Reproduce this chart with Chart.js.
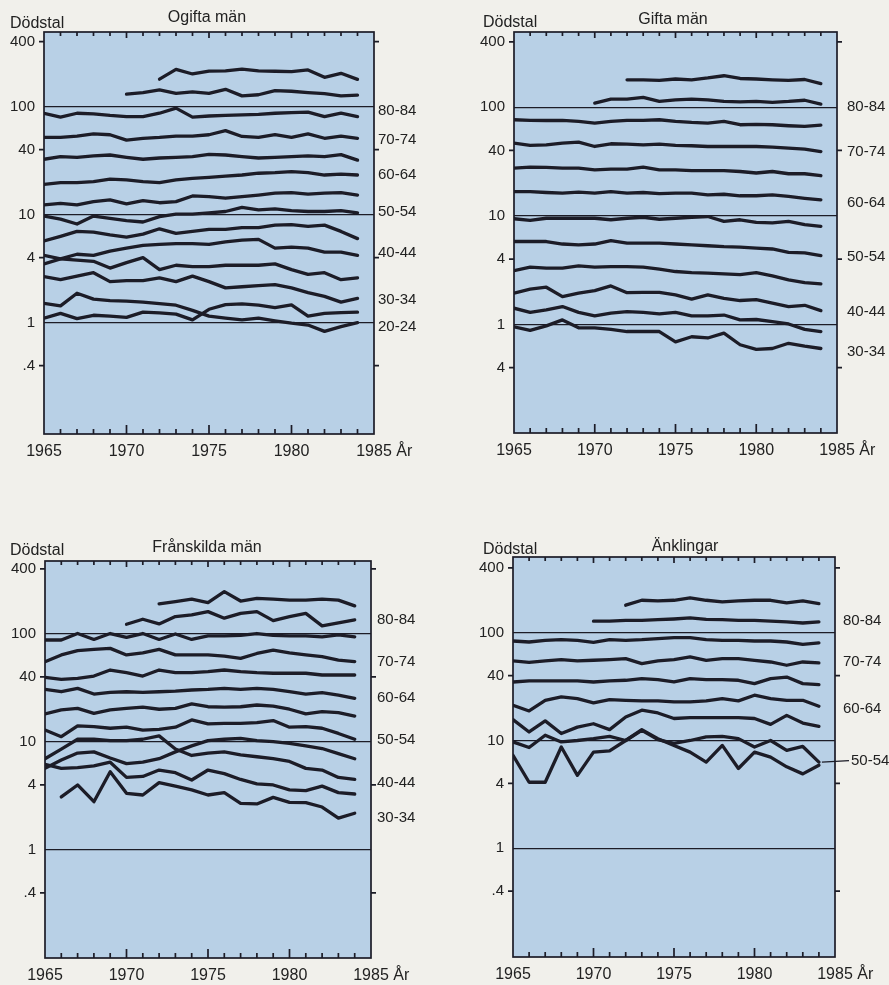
<!DOCTYPE html>
<html lang="sv">
<head>
<meta charset="utf-8">
<title>Dödstal</title>
<script src="https://cdn.jsdelivr.net/npm/chart.js@4.4.1/dist/chart.umd.min.js"></script>
<style>
  html, body { margin: 0; padding: 0; background: #f1f0eb; }
  #page { position: relative; width: 889px; height: 985px; overflow: hidden; }
  #page canvas { position: absolute; }
</style>
</head>
<body>
<div id="page">
  <canvas id="ogifta" width="444" height="490" style="left:0;top:0"></canvas>
  <canvas id="gifta" width="445" height="490" style="left:444px;top:0"></canvas>
  <canvas id="franskilda" width="444" height="460" style="left:0;top:525px"></canvas>
  <canvas id="anklingar" width="445" height="460" style="left:444px;top:525px"></canvas>
</div>
<script>
/* ---- data: deaths per 1000 ---- */
const years = [1965, 1966, 1967, 1968, 1969, 1970, 1971, 1972, 1973, 1974,
               1975, 1976, 1977, 1978, 1979, 1980, 1981, 1982, 1983, 1984];
const xTicks = [1965, 1970, 1975, 1980, 1985];
const yTicks = [0.4, 1, 4, 10, 40, 100, 400];
const gridValues = [1, 10, 100];
const sideTicks = [0.4, 4, 40, 400];

// Ogifta män
const ogifta85 = [null, null, null, null, null, null, null, 180, 222, 201, 214, 215, 223, 215, 213, 211, 219, 187, 204, 179];
const ogifta80 = [null, null, null, null, null, 131, 135, 143, 133, 137, 133, 145, 126, 129, 141, 139, 135, 132, 126, 128];
const ogifta75 = [87, 80, 87, 86, 83, 81, 81, 87, 97, 80, 82, 83, 84, 85, 87, 88, 89, 81, 87, 81];
const ogifta70 = [52, 52, 53.5, 56, 55, 49, 51, 52, 53.5, 53.5, 55, 60, 53, 52, 55, 52, 56, 51, 53.5, 51];
const ogifta65 = [32.6, 34.5, 34, 35, 35.7, 34, 32.6, 33.5, 34, 34.5, 36.2, 35.7, 34.5, 33.5, 34, 34.5, 35, 34.5, 36, 32];
const ogifta60 = [19.1, 19.8, 19.8, 20.2, 21.3, 21, 20.2, 19.8, 21, 21.7, 22.2, 22.8, 23.3, 24.2, 24.5, 25, 24.5, 23.3, 23.7, 23.3];
const ogifta55 = [12.3, 12.7, 12.3, 13.2, 13.7, 12.6, 13.5, 12.9, 13.2, 14.9, 14.7, 14.2, 14.7, 15.2, 15.8, 16, 15.5, 15.8, 16, 15.2];
const ogifta50 = [9.7, 9.1, 8.2, 9.7, 9.25, 8.8, 8.55, 9.6, 10.1, 10.1, 10.4, 10.7, 11.7, 11.1, 11.3, 10.9, 10.7, 10.7, 10.9, 10.4];
const ogifta45 = [5.7, 6.3, 7.0, 6.9, 6.5, 6.2, 6.6, 7.4, 6.7, 7.0, 7.3, 7.3, 7.6, 7.6, 8.0, 8.1, 7.8, 8.0, 7.0, 6.0];
const ogifta40 = [3.5, 3.9, 4.3, 4.2, 4.6, 4.9, 5.2, 5.3, 5.4, 5.4, 5.3, 5.6, 5.8, 5.9, 4.9, 5.0, 4.9, 4.5, 4.5, 4.2];
const ogifta35 = [4.2, 3.9, 3.8, 3.7, 3.2, 3.6, 4.0, 3.1, 3.4, 3.3, 3.3, 3.4, 3.4, 3.4, 3.5, 3.1, 2.8, 2.9, 2.5, 2.6];
const ogifta30 = [2.67, 2.5, 2.7, 2.9, 2.4, 2.45, 2.45, 2.6, 2.4, 2.7, 2.4, 2.1, 2.15, 2.2, 2.25, 2.1, 1.9, 1.75, 1.55, 1.68];
const ogifta25 = [1.51, 1.43, 1.87, 1.65, 1.6, 1.58, 1.55, 1.5, 1.45, 1.3, 1.15, 1.1, 1.06, 1.1, 1.04, 0.99, 0.95, 0.83, 0.92, 1.0];
const ogifta20 = [1.1, 1.22, 1.09, 1.17, 1.15, 1.12, 1.25, 1.23, 1.2, 1.06, 1.33, 1.47, 1.49, 1.45, 1.38, 1.46, 1.15, 1.22, 1.24, 1.25];

// Gifta män
const gifta85 = [null, null, null, null, null, null, null, 179, 179, 177, 182, 179, 186, 195, 184, 182, 179, 177, 180, 165];
const gifta80 = [null, null, null, null, null, 109, 119, 119, 123, 113, 117, 119, 117, 113, 112, 113, 111, 113, 116, 107];
const gifta75 = [76.7, 75.7, 75.5, 75.7, 74, 71.4, 74, 75.7, 75.7, 76.7, 74, 72.4, 71.4, 74, 69, 69.5, 69, 67.5, 66.5, 68.5];
const gifta70 = [46.8, 44.5, 45.1, 46.8, 47.7, 43.5, 46.1, 45.8, 45.1, 45.8, 44.5, 44.2, 43.5, 43.5, 43.5, 43.5, 43, 42, 41.1, 39.1];
const gifta65 = [27.5, 28.1, 27.9, 27.5, 27.5, 26.5, 26.9, 26.9, 28.1, 26.5, 26.5, 26.1, 26.1, 26.1, 25.6, 24.8, 25.6, 24.4, 24.4, 23.4];
const gifta60 = [16.7, 16.7, 16.4, 16.2, 16.5, 16.2, 16.7, 16.2, 16.4, 16, 16.2, 16.2, 15.6, 15.8, 15.3, 15.3, 15.6, 15.1, 14.5, 14];
const gifta55 = [9.4, 9.1, 9.5, 9.5, 9.5, 9.5, 9.2, 9.5, 9.7, 9.3, 9.5, 9.7, 9.85, 8.9, 9.2, 8.7, 8.6, 8.9, 8.3, 8.0];
const gifta50 = [5.8, 5.8, 5.8, 5.5, 5.4, 5.5, 5.9, 5.6, 5.6, 5.6, 5.5, 5.4, 5.3, 5.2, 5.15, 5.04, 4.95, 4.6, 4.55, 4.3];
const gifta45 = [3.13, 3.37, 3.3, 3.3, 3.46, 3.37, 3.41, 3.41, 3.37, 3.23, 3.07, 3.0, 2.97, 2.92, 2.88, 3.0, 2.8, 2.57, 2.43, 2.36];
const gifta40 = [1.94, 2.11, 2.2, 1.8, 1.94, 2.05, 2.26, 1.96, 1.97, 1.97, 1.87, 1.71, 1.87, 1.74, 1.66, 1.69, 1.57, 1.46, 1.5, 1.34];
const gifta35 = [1.41, 1.29, 1.36, 1.46, 1.29, 1.2, 1.27, 1.31, 1.29, 1.25, 1.29, 1.2, 1.2, 1.22, 1.1, 1.11, 1.06, 1.01, 0.9, 0.86];
const gifta30 = [0.95, 0.88, 0.97, 1.1, 0.93, 0.93, 0.9, 0.86, 0.86, 0.86, 0.69, 0.77, 0.75, 0.83, 0.65, 0.59, 0.6, 0.67, 0.63, 0.6];

// Frånskilda män
const fransk85 = [null, null, null, null, null, null, null, 190, 199, 210, 195, 247, 202, 214, 210, 206, 206, 210, 206, 182];
const fransk80 = [null, null, null, null, null, 123, 137, 124, 145, 150, 161, 140, 155, 161, 133, 145, 155, 119, 127, 135];
const fransk75 = [88, 88, 101, 89, 101, 93, 101, 89, 100, 89, 96, 96, 97, 101, 97, 96, 96, 94, 98, 94];
const fransk70 = [55.4, 64, 70, 72, 73.6, 64, 67, 72, 64, 64, 64, 62.5, 59.5, 66, 71, 67, 64, 61.6, 57.4, 55.4];
const fransk65 = [39.7, 38, 38.9, 40.8, 46.4, 43.8, 40.8, 46.4, 43.8, 43.8, 44.8, 46.4, 44.8, 43.8, 43.3, 43.3, 43.3, 41.7, 41.7, 41.7];
const fransk60 = [30.7, 29.2, 31.4, 27.8, 28.8, 29.2, 28.8, 29.2, 29.6, 30.3, 30.7, 31.4, 30.7, 31.4, 30.7, 29.2, 27.8, 28.6, 27.2, 25.4];
const fransk55 = [18.2, 19.8, 20.5, 18.4, 19.8, 20.5, 21, 20.1, 20.5, 22.5, 21.2, 21, 21.2, 22, 21.5, 20.1, 18.2, 19.1, 18.7, 17.4];
const fransk50 = [12.9, 11.2, 14.1, 13.9, 13.4, 13.7, 12.9, 13.1, 13.7, 16, 14.7, 14.9, 14.9, 15.1, 15.8, 13.7, 13.9, 13.4, 12, 10.6];
const fransk45 = [5.7, 6.8, 7.9, 8.1, 7.1, 6.3, 6.5, 7.0, 8.1, 9.2, 10.3, 10.6, 10.8, 10.3, 10.1, 9.7, 9.2, 8.7, 7.8, 7.0];
const fransk40 = [7.0, 8.6, 10.6, 10.6, 10.3, 10.3, 10.6, 11.4, 8.6, 7.5, 7.9, 8.1, 7.6, 7.3, 7.0, 6.6, 5.7, 5.5, 4.7, 4.5];
const fransk35 = [6.2, 5.7, 5.8, 6.0, 6.5, 4.7, 4.8, 5.5, 5.2, 4.45, 5.5, 5.1, 4.5, 4.1, 4.0, 3.6, 3.55, 3.9, 3.4, 3.3];
const fransk30 = [null, 3.1, 4.0, 2.8, 5.3, 3.35, 3.23, 4.2, 3.9, 3.6, 3.23, 3.4, 2.7, 2.67, 3.07, 2.76, 2.74, 2.5, 1.97, 2.19];

// Änklingar
const ankl85 = [null, null, null, null, null, null, null, 180, 200, 197, 200, 210, 200, 193, 197, 200, 200, 189, 197, 186];
const ankl80 = [null, null, null, null, null, 128, 128, 130, 130, 132, 134, 137, 133, 132, 130, 130, 128, 126, 123, 126];
const ankl75 = [83.8, 82, 85, 86.2, 85, 81.5, 86.2, 85, 86.2, 88.2, 90.1, 90.1, 86.2, 85, 85, 83.8, 83.8, 82, 78, 80.5];
const ankl70 = [54.7, 53.1, 54.7, 56.3, 54.7, 55.5, 56.3, 57.5, 51.6, 54.7, 56.3, 59.6, 55.5, 57.5, 57.5, 55.5, 53.5, 49.9, 53.5, 52.4];
const ankl65 = [34.9, 35.7, 35.7, 35.7, 35.7, 34.9, 35.7, 36.2, 37.5, 36.7, 34.9, 37.5, 36.7, 36.7, 36.2, 33.7, 37.5, 38.8, 33.7, 33.0];
const ankl60 = [21.2, 18.8, 23.6, 25.4, 24.5, 22.3, 23.9, 23.6, 23.3, 23.3, 22.8, 22.8, 23.3, 24.5, 23.3, 26.3, 24.5, 23.6, 23.6, 20.8];
const ankl55 = [15.6, 12.0, 15.2, 11.6, 13.3, 14.3, 12.6, 16.5, 19.1, 18, 16, 16.3, 16.3, 16.3, 16.3, 16.0, 14.1, 17.1, 14.5, 13.5];
const ankl50 = [9.7, 8.6, 11.2, 9.7, 10.0, 10.4, 10.9, 10.0, 12.4, 10.2, 9.4, 10.0, 10.8, 10.9, 10.4, 8.7, 10.0, 8.1, 8.8, 6.3];
const ankl45 = [7.3, 4.1, 4.1, 8.7, 4.75, 7.8, 8.0, 10.0, 12.6, 10.4, 9.0, 7.8, 6.3, 9.0, 5.5, 7.8, 7.0, 5.7, 4.9, 5.9];

// age group labels at the right of each panel, and the level they sit at
const ogiftaLabels = ['80-84', '70-74', '60-64', '50-54', '40-44', '30-34', '20-24'];
const ogiftaLabelAt = [92, 49, 23.3, 10.6, 4.4, 1.62, 0.91];
const giftaLabels = ['80-84', '70-74', '60-64', '50-54', '40-44', '30-34'];
const giftaLabelAt = [101, 38.9, 13.2, 4.2, 1.3, 0.56];
const franskLabels = ['80-84', '70-74', '60-64', '50-54', '40-44', '30-34'];
const franskLabelAt = [135, 55, 25.6, 10.4, 4.2, 1.98];
const anklLabels = ['80-84', '70-74', '60-64', '50-54'];
const anklLabelAt = [130, 53.5, 19.8, 6.5];

/* ---- styling ---- */
const INK = '#1c1c27';
const TEXT = '#222222';
const PLOT_BG = '#b8d0e6';
const FONT = '"Liberation Sans", Arial, Helvetica, sans-serif';

Chart.defaults.font.family = FONT;
Chart.defaults.color = TEXT;

const panels = [
  { id: 'ogifta', title: 'Ogifta män', lines: [ogifta85, ogifta80, ogifta75, ogifta70, ogifta65, ogifta60, ogifta55,
      ogifta50, ogifta45, ogifta40, ogifta35, ogifta30, ogifta25, ogifta20],
    labels: ogiftaLabels, labelAt: ogiftaLabelAt, lowTick: '.4',
    yMin: 0.093, yMax: 492, axisW: 44, padTop: 32, padRight: 70, xAxisH: 56,
    titleX: 207, titleBase: 22, dodX: 10, dodBase: 28, labelX: 378 },
  { id: 'gifta', title: 'Gifta män', lines: [gifta85, gifta80, gifta75, gifta70, gifta65, gifta60, gifta55,
      gifta50, gifta45, gifta40, gifta35, gifta30],
    labels: giftaLabels, labelAt: giftaLabelAt, lowTick: '4',
    yMin: 0.1, yMax: 493, axisW: 70, padTop: 32, padRight: 52, xAxisH: 57,
    titleX: 229, titleBase: 24, dodX: 39, dodBase: 27, labelX: 403 },
  { id: 'franskilda', title: 'Frånskilda män', lines: [fransk85, fransk80, fransk75, fransk70, fransk65, fransk60, fransk55,
      fransk50, fransk45, fransk40, fransk35, fransk30],
    labels: franskLabels, labelAt: franskLabelAt, lowTick: '.4',
    yMin: 0.1, yMax: 474, axisW: 45, padTop: 36, padRight: 73, xAxisH: 27,
    titleX: 207, titleBase: 27, dodX: 10, dodBase: 30, labelX: 377 },
  { id: 'anklingar', title: 'Änklingar', lines: [ankl85, ankl80, ankl75, ankl70, ankl65, ankl60, ankl55, ankl50, ankl45],
    labels: anklLabels, labelAt: anklLabelAt, lowTick: '.4',
    yMin: 0.098, yMax: 504, axisW: 69, padTop: 32, padRight: 54, xAxisH: 28,
    titleX: 241, titleBase: 26, dodX: 39, dodBase: 29, labelX: 399,
    pointer: { index: 3, labelX: 407 } }
];

// plot background, frame, tick marks and all the loose texts
function framePlugin(panel) {
  return {
    id: 'frame',
    beforeDraw(chart) {
      const { ctx, chartArea: a } = chart;
      ctx.save();
      ctx.fillStyle = PLOT_BG;
      ctx.fillRect(a.left, a.top, a.right - a.left, a.bottom - a.top);
      ctx.restore();
    },
    afterDraw(chart) {
      const { ctx, chartArea: a, scales: { x, y } } = chart;
      ctx.save();
      ctx.strokeStyle = INK;
      ctx.lineWidth = 1.7;
      ctx.strokeRect(a.left, a.top, a.right - a.left, a.bottom - a.top);

      ctx.beginPath();
      for (let yr = 1966; yr <= 1984; yr++) {
        const px = x.getPixelForValue(yr);
        const major = yr % 5 === 0;
        ctx.moveTo(px, a.top);
        ctx.lineTo(px, a.top + (major ? 6 : 4));
        ctx.moveTo(px, a.bottom);
        ctx.lineTo(px, a.bottom - (major ? 9 : 5));
      }
      // short outward marks on both sides at 400, 40, 4 and .4
      sideTicks.forEach(v => {
        const py = y.getPixelForValue(v);
        ctx.moveTo(a.left - 5, py);
        ctx.lineTo(a.left, py);
        ctx.moveTo(a.right, py);
        ctx.lineTo(a.right + 5, py);
      });
      ctx.stroke();

      // title and axis name
      ctx.fillStyle = TEXT;
      ctx.font = '16px ' + FONT;
      ctx.textBaseline = 'alphabetic';
      ctx.textAlign = 'center';
      ctx.fillText(panel.title, panel.titleX, panel.titleBase);
      ctx.textAlign = 'left';
      ctx.fillText('Dödstal', panel.dodX, panel.dodBase);

      // unit after the last year label
      const x85 = x.getPixelForValue(1985);
      const w85 = ctx.measureText('1985').width;
      ctx.textBaseline = 'middle';
      ctx.fillText(' År', x85 + w85 / 2, a.bottom + 8 + 9.6);

      // age group labels
      ctx.font = '15px ' + FONT;
      panel.labels.forEach((txt, i) => {
        const py = y.getPixelForValue(panel.labelAt[i]);
        const px = panel.pointer && panel.pointer.index === i ? panel.pointer.labelX : panel.labelX;
        ctx.fillText(txt, px, py);
      });

      if (panel.pointer) {
        const i = panel.pointer.index;
        const last = panel.lines[7];
        ctx.lineWidth = 1.2;
        ctx.beginPath();
        ctx.moveTo(x.getPixelForValue(1984) + 3, y.getPixelForValue(last[last.length - 1]));
        ctx.lineTo(panel.pointer.labelX - 2, y.getPixelForValue(panel.labelAt[i]));
        ctx.stroke();
      }
      ctx.restore();
    }
  };
}

function makePanel(panel) {
  return new Chart(document.getElementById(panel.id), {
    type: 'line',
    data: {
      datasets: panel.lines.map(values => ({
        data: years.map((yr, i) => ({ x: yr, y: values[i] })),
        borderColor: INK,
        borderWidth: 3.3,
        borderJoinStyle: 'round',
        borderCapStyle: 'round',
        pointRadius: 0,
        tension: 0,
        fill: false,
        spanGaps: false
      }))
    },
    options: {
      responsive: false,
      animation: false,
      devicePixelRatio: 1,
      layout: { padding: { top: panel.padTop, right: panel.padRight, left: 0, bottom: 0 } },
      plugins: { legend: { display: false }, tooltip: { enabled: false } },
      scales: {
        x: {
          type: 'linear',
          bounds: 'data',
          min: 1965,
          max: 1985,
          afterBuildTicks: s => { s.ticks = xTicks.map(v => ({ value: v })); },
          afterFit: s => { s.height = panel.xAxisH; },
          grid: { display: false, drawTicks: false },
          border: { display: false },
          ticks: {
            padding: 8,
            autoSkip: false,
            maxRotation: 0,
            color: TEXT,
            font: { size: 16 },
            callback: v => String(v)
          }
        },
        y: {
          type: 'logarithmic',
          bounds: 'data',
          min: panel.yMin,
          max: panel.yMax,
          afterBuildTicks: s => { s.ticks = yTicks.map(v => ({ value: v })); },
          afterFit: s => { s.width = panel.axisW; },
          grid: {
            color: c => (c.tick && gridValues.includes(c.tick.value)) ? INK : 'rgba(0,0,0,0)',
            lineWidth: 1.2,
            drawTicks: true,
            tickLength: 5,
            tickColor: 'rgba(0,0,0,0)'
          },
          border: { display: false },
          ticks: {
            padding: 4,
            autoSkip: false,
            color: TEXT,
            font: { size: 15 },
            callback: v => v === 0.4 ? panel.lowTick : String(v)
          }
        }
      }
    },
    plugins: [framePlugin(panel)]
  });
}

panels.forEach(makePanel);
</script>
</body>
</html>
